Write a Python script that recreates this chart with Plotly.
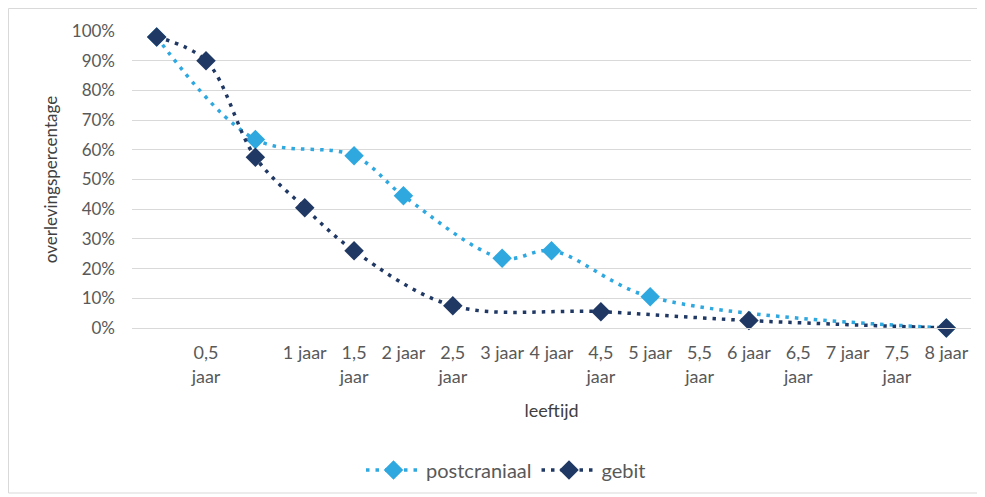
import plotly.graph_objects as go

# categories (numeric positions on the x axis, labels split over two lines like the original)
labels_top = ["", "0,5", "", "1 jaar", "1,5", "2 jaar", "2,5", "3 jaar", "4 jaar",
              "4,5", "5 jaar", "5,5", "6 jaar", "6,5", "7 jaar", "7,5", "8 jaar"]
labels_bottom = ["", "jaar", "", "", "jaar", "", "jaar", "", "",
                 "jaar", "", "jaar", "", "jaar", "", "jaar", ""]
positions = list(range(len(labels_top)))

# survival percentages (None = no observation at that age)
postcraniaal = [98, None, 63.5, None, 58, 44.5, None, 23.5, 26,
                None, 10.5, None, None, None, None, None, 0]
gebit = [98, 90, 57.5, 40.5, 26, None, 7.5, None, None,
         5.5, None, None, 2.5, None, None, None, 0]

light_blue = "#2FA8E0"
navy = "#203864"
grey_text = "#595959"
font_family = "Lato, 'Open Sans', sans-serif"

# page body has an 8px margin, so the figure is a bit smaller than the window
W, H = 977, 489
L, R, T, B = 124, 14, 23, 169
pw, ph = W - L - R, H - T - B

fig = go.Figure()
for name, values, color in [("postcraniaal", postcraniaal, light_blue), ("gebit", gebit, navy)]:
    fig.add_trace(go.Scatter(
        x=positions, y=values, name=name, mode="lines+markers", connectgaps=True,
        line=dict(color=color, width=3.5, dash="3.5px,6px", shape="spline", smoothing=1),
        marker=dict(symbol="diamond", size=15, color=color),
        cliponaxis=False,
    ))

# empty trace so the second x axis (second line of the tick labels) gets drawn
fig.add_trace(go.Scatter(x=[None], y=[None], xaxis="x2", showlegend=False, hoverinfo="skip"))

fig.update_layout(
    width=W, height=H,
    margin=dict(l=L, r=R, t=T, b=B, autoexpand=False),
    paper_bgcolor="white", plot_bgcolor="white",
    font=dict(family=font_family, size=17, color=grey_text),
    showlegend=True,
    legend=dict(orientation="h", xref="container", yref="container",
                x=498 / W, xanchor="center", y=1 - 462 / H, yanchor="middle",
                font=dict(size=20, color=grey_text), itemwidth=55),
    xaxis=dict(range=[-0.5, 16.5], tickmode="array", tickvals=positions, ticktext=labels_top,
               showgrid=False, zeroline=False, showline=True, linecolor="#D9D9D9",
               ticks="", ticklabelstandoff=8, tickfont=dict(size=18),
               title=dict(text="leeftijd", standoff=42, font=dict(size=18, color="#404040"))),
    xaxis2=dict(range=[-0.5, 16.5], overlaying="x", anchor="y", side="bottom",
                tickmode="array", tickvals=positions, ticktext=labels_bottom,
                showgrid=False, zeroline=False, showline=False, ticks="",
                ticklabelstandoff=36, tickfont=dict(size=18)),
    yaxis=dict(range=[0, 100], dtick=10, ticksuffix="%", showgrid=True, gridcolor="#D9D9D9",
               zeroline=False, ticks="", ticklabelstandoff=16,
               title=dict(text="overlevingspercentage", standoff=9,
                          font=dict(size=17, color="#404040"))),
    shapes=[dict(type="rect", xref="paper", yref="paper",
                 x0=(0.5 - L) / pw, x1=(970 - L) / pw,
                 y0=(ph - 485 + T) / ph, y1=(ph - 0.5 + T) / ph,
                 line=dict(color="#D9D9D9", width=1), layer="below")],
)

fig.write_html("out.html")
